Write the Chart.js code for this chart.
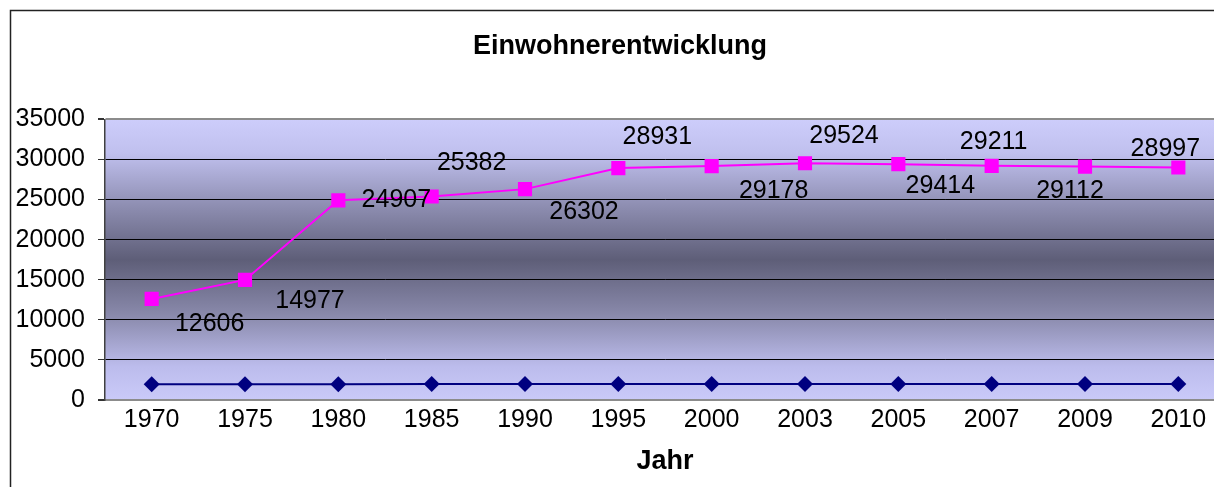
<!DOCTYPE html>
<html>
<head>
<meta charset="utf-8">
<script src="https://cdn.jsdelivr.net/npm/chart.js@4/dist/chart.umd.min.js"></script>
<style>
html,body{margin:0;padding:0;overflow:hidden;background:#fff;}
canvas{display:block;}
</style>
</head>
<body>
<canvas id="c" width="1240" height="487"></canvas>
<script>
const years = ['1970','1975','1980','1985','1990','1995','2000','2003','2005','2007','2009','2010'];
const einwohner = [12606,14977,24907,25382,26302,28931,29178,29524,29414,29211,29112,28997];
const jahrWerte = [1970,1975,1980,1985,1990,1995,2000,2003,2005,2007,2009,2010];
const yTicks = [0,5000,10000,15000,20000,25000,30000,35000];

// label placement offsets (style, not data)
const labelOffsets = [[58,25],[65,21],[58,0],[40,-33],[59,23],[39,-31],[62,25],[39,-27],[42,22],[2,-24],[-15,25],[-13,-18]];

Chart.defaults.font.family = "'Liberation Sans', Arial, sans-serif";
Chart.defaults.color = '#000';

const bgPlugin = {
  id: 'bg',
  beforeDraw(chart) {
    const {ctx, chartArea: a} = chart;
    ctx.save();
    const g = ctx.createLinearGradient(0, a.top, 0, a.bottom);
    g.addColorStop(0, '#cdcdfb');
    g.addColorStop(0.12, '#c0c0ee');
    g.addColorStop(0.3, '#9090b4');
    g.addColorStop(0.5, '#5e5e78');
    g.addColorStop(0.7, '#8a8aac');
    g.addColorStop(0.88, '#bcbcec');
    g.addColorStop(1, '#cacaf9');
    ctx.fillStyle = g;
    ctx.fillRect(a.left, a.top, a.right - a.left, a.bottom - a.top);
    ctx.strokeStyle = '#222';
    ctx.lineWidth = 1.5;
    ctx.strokeRect(10.5, 10.5, 3000, 3000);
    ctx.restore();
  }
};

const labelPlugin = {
  id: 'vlabels',
  afterDatasetsDraw(chart) {
    const {ctx} = chart;
    const meta = chart.getDatasetMeta(0);
    ctx.save();
    ctx.font = "25px 'Liberation Sans', Arial, sans-serif";
    ctx.fillStyle = '#000';
    ctx.textAlign = 'center';
    ctx.textBaseline = 'middle';
    meta.data.forEach((pt, i) => {
      const o = labelOffsets[i];
      ctx.fillText(String(einwohner[i]), pt.x + o[0], pt.y + o[1]);
    });
    ctx.restore();
  }
};

new Chart(document.getElementById('c'), {
  type: 'line',
  data: {
    labels: years,
    datasets: [
      {
        label: 'Einwohner',
        data: einwohner,
        borderColor: '#ff00ff',
        backgroundColor: '#ff00ff',
        borderWidth: 2,
        pointStyle: 'rect',
        pointRadius: 10,
        pointBorderWidth: 0,
        tension: 0
      },
      {
        label: 'Jahr',
        data: jahrWerte,
        borderColor: '#000080',
        backgroundColor: '#000080',
        borderWidth: 2,
        pointStyle: 'rectRot',
        pointRadius: 8,
        pointBorderWidth: 0,
        tension: 0
      }
    ]
  },
  options: {
    responsive: false,
    animation: false,
    layout: {padding: {left: 15, right: 15, top: 0, bottom: 0}},
    plugins: {
      legend: {display: false},
      tooltip: {enabled: false},
      title: {
        display: true,
        text: 'Einwohnerentwicklung',
        font: {size: 27, weight: 'bold'},
        color: '#000',
        padding: {top: 30, bottom: 57}
      }
    },
    scales: {
      x: {
        offset: true,
        grid: {display: false},
        border: {display: true, color: '#8c8c8c', width: 2},
        ticks: {font: {size: 25}, color: '#000', padding: -3, maxRotation: 0, autoSkip: false},
        title: {display: true, text: 'Jahr', font: {size: 27, weight: 'bold'}, color: '#000', padding: {top: 0, bottom: 9}},
        afterFit(s) { s.height = 87; }
      },
      y: {
        min: 0,
        max: 35000,
        afterBuildTicks(s) { s.ticks = yTicks.map(v => ({value: v})); },
        grid: {
          color: (c) => (c.tick && (c.tick.value === 0 || c.tick.value === 35000)) ? '#8c8c8c' : '#000',
          lineWidth: (c) => (c.tick && (c.tick.value === 0 || c.tick.value === 35000)) ? 2 : 1,
          drawTicks: true,
          tickLength: 7,
          tickColor: '#333'
        },
        border: {display: true, color: '#404040', width: 1.5},
        ticks: {font: {size: 25}, color: '#000', padding: 13, callback: (v) => String(v)},
        afterFit(s) { s.width = 90; }
      }
    }
  },
  plugins: [bgPlugin, labelPlugin]
});
</script>
</body>
</html>
